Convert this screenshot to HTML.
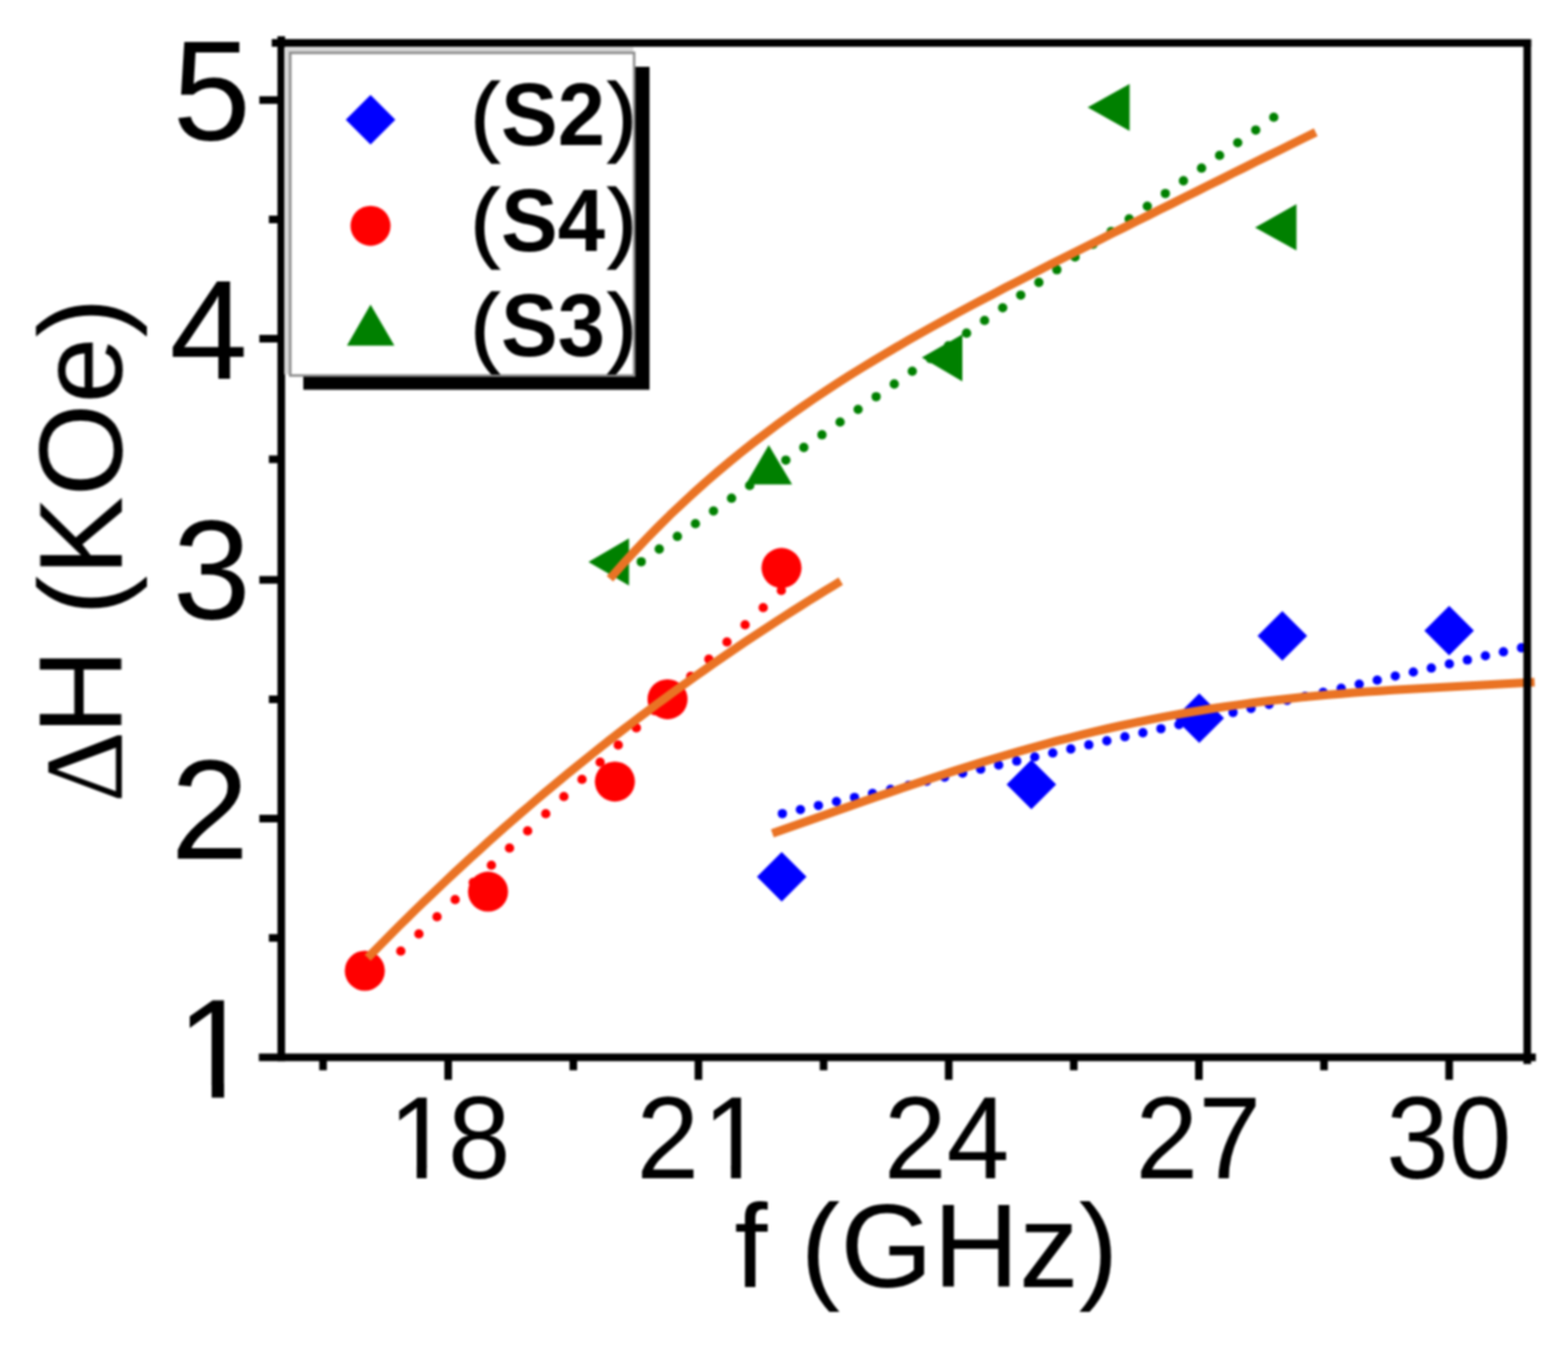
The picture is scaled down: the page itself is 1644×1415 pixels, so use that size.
<!DOCTYPE html>
<html><head><meta charset="utf-8"><title>chart</title><style>.ls{font-family:"Liberation Sans",Arial,sans-serif}html,body{margin:0;padding:0;background:#fff;overflow:hidden}svg{display:block}</style></head><body>
<svg width="1644" height="1415" viewBox="0 0 1644 1415">
<defs><filter id="bl" x="0" y="0" width="1644" height="1415" filterUnits="userSpaceOnUse" color-interpolation-filters="sRGB"><feGaussianBlur stdDeviation="0.9"/></filter></defs>
<rect width="1644" height="1415" fill="#fff"/>
<g filter="url(#bl)">
<g fill="#FF0000">
<circle cx="420.2" cy="996.9" r="4.9"/>
<circle cx="439.2" cy="978.9" r="4.9"/>
<circle cx="458.2" cy="960.9" r="4.9"/>
<circle cx="477.2" cy="942.9" r="4.9"/>
<circle cx="496.2" cy="924.9" r="4.9"/>
<circle cx="515.2" cy="906.9" r="4.9"/>
<circle cx="534.2" cy="888.9" r="4.9"/>
<circle cx="553.2" cy="870.9" r="4.9"/>
<circle cx="572.2" cy="852.9" r="4.9"/>
<circle cx="591.2" cy="834.9" r="4.9"/>
<circle cx="610.2" cy="816.9" r="4.9"/>
<circle cx="629.2" cy="798.9" r="4.9"/>
<circle cx="648.2" cy="780.9" r="4.9"/>
<circle cx="667.2" cy="762.9" r="4.9"/>
<circle cx="686.2" cy="744.9" r="4.9"/>
<circle cx="705.2" cy="726.9" r="4.9"/>
<circle cx="724.2" cy="708.9" r="4.9"/>
<circle cx="743.2" cy="690.9" r="4.9"/>
<circle cx="762.2" cy="672.9" r="4.9"/>
<circle cx="781.2" cy="654.9" r="4.9"/>
<circle cx="800.2" cy="636.9" r="4.9"/>
<circle cx="819.2" cy="618.9" r="4.9"/>
</g>
<g fill="#008000">
<circle cx="672.3" cy="588.8" r="4.9"/>
<circle cx="691.2" cy="575.5" r="4.9"/>
<circle cx="710.2" cy="562.2" r="4.9"/>
<circle cx="729.1" cy="548.9" r="4.9"/>
<circle cx="748.1" cy="535.6" r="4.9"/>
<circle cx="767.0" cy="522.2" r="4.9"/>
<circle cx="786.0" cy="508.9" r="4.9"/>
<circle cx="804.9" cy="495.6" r="4.9"/>
<circle cx="823.9" cy="482.3" r="4.9"/>
<circle cx="842.8" cy="469.0" r="4.9"/>
<circle cx="861.8" cy="455.7" r="4.9"/>
<circle cx="880.8" cy="442.4" r="4.9"/>
<circle cx="899.7" cy="429.1" r="4.9"/>
<circle cx="918.6" cy="415.8" r="4.9"/>
<circle cx="937.6" cy="402.5" r="4.9"/>
<circle cx="956.5" cy="389.1" r="4.9"/>
<circle cx="975.5" cy="375.8" r="4.9"/>
<circle cx="994.4" cy="362.5" r="4.9"/>
<circle cx="1013.4" cy="349.2" r="4.9"/>
<circle cx="1032.3" cy="335.9" r="4.9"/>
<circle cx="1051.3" cy="322.6" r="4.9"/>
<circle cx="1070.2" cy="309.3" r="4.9"/>
<circle cx="1089.2" cy="296.0" r="4.9"/>
<circle cx="1108.1" cy="282.7" r="4.9"/>
<circle cx="1127.1" cy="269.4" r="4.9"/>
<circle cx="1146.0" cy="256.0" r="4.9"/>
<circle cx="1165.0" cy="242.7" r="4.9"/>
<circle cx="1183.9" cy="229.4" r="4.9"/>
<circle cx="1202.9" cy="216.1" r="4.9"/>
<circle cx="1221.8" cy="202.8" r="4.9"/>
<circle cx="1240.8" cy="189.5" r="4.9"/>
<circle cx="1259.8" cy="176.2" r="4.9"/>
<circle cx="1278.7" cy="162.9" r="4.9"/>
<circle cx="1297.7" cy="149.6" r="4.9"/>
<circle cx="1316.6" cy="136.3" r="4.9"/>
<circle cx="1335.5" cy="122.9" r="4.9"/>
</g>
<g fill="#0000FF">
<circle cx="820.3" cy="852.8" r="4.9"/>
<circle cx="839.2" cy="848.6" r="4.9"/>
<circle cx="858.1" cy="844.3" r="4.9"/>
<circle cx="877.0" cy="840.1" r="4.9"/>
<circle cx="895.9" cy="835.8" r="4.9"/>
<circle cx="914.8" cy="831.6" r="4.9"/>
<circle cx="933.7" cy="827.4" r="4.9"/>
<circle cx="952.6" cy="823.1" r="4.9"/>
<circle cx="971.5" cy="818.9" r="4.9"/>
<circle cx="990.4" cy="814.6" r="4.9"/>
<circle cx="1009.3" cy="810.4" r="4.9"/>
<circle cx="1028.2" cy="806.2" r="4.9"/>
<circle cx="1047.1" cy="801.9" r="4.9"/>
<circle cx="1066.0" cy="797.7" r="4.9"/>
<circle cx="1084.9" cy="793.4" r="4.9"/>
<circle cx="1103.8" cy="789.2" r="4.9"/>
<circle cx="1122.7" cy="785.0" r="4.9"/>
<circle cx="1141.6" cy="780.7" r="4.9"/>
<circle cx="1160.5" cy="776.5" r="4.9"/>
<circle cx="1179.4" cy="772.2" r="4.9"/>
<circle cx="1198.3" cy="768.0" r="4.9"/>
<circle cx="1217.2" cy="763.8" r="4.9"/>
<circle cx="1236.1" cy="759.5" r="4.9"/>
<circle cx="1255.0" cy="755.3" r="4.9"/>
<circle cx="1273.9" cy="751.0" r="4.9"/>
<circle cx="1292.8" cy="746.8" r="4.9"/>
<circle cx="1311.7" cy="742.6" r="4.9"/>
<circle cx="1330.6" cy="738.3" r="4.9"/>
<circle cx="1349.5" cy="734.1" r="4.9"/>
<circle cx="1368.4" cy="729.8" r="4.9"/>
<circle cx="1387.3" cy="725.6" r="4.9"/>
<circle cx="1406.2" cy="721.4" r="4.9"/>
<circle cx="1425.1" cy="717.1" r="4.9"/>
<circle cx="1444.0" cy="712.9" r="4.9"/>
<circle cx="1462.9" cy="708.6" r="4.9"/>
<circle cx="1481.8" cy="704.4" r="4.9"/>
<circle cx="1500.7" cy="700.2" r="4.9"/>
<circle cx="1519.6" cy="695.9" r="4.9"/>
<circle cx="1538.5" cy="691.7" r="4.9"/>
<circle cx="1557.4" cy="687.4" r="4.9"/>
<circle cx="1576.3" cy="683.2" r="4.9"/>
<circle cx="1595.2" cy="679.0" r="4.9"/>
</g>
<path d="M819.6,893.1 L845.6,919.1 L819.6,945.1 L793.6,919.1Z" fill="#0000FF"/>
<path d="M1081.4,796.3 L1107.4,822.3 L1081.4,848.3 L1055.4,822.3Z" fill="#0000FF"/>
<path d="M1257.4,726.7 L1283.4,752.7 L1257.4,778.7 L1231.4,752.7Z" fill="#0000FF"/>
<path d="M1344.5,640.6 L1370.5,666.6 L1344.5,692.6 L1318.5,666.6Z" fill="#0000FF"/>
<path d="M1519.4,634.9 L1545.4,660.9 L1519.4,686.9 L1493.4,660.9Z" fill="#0000FF"/>
<circle cx="382.5" cy="1017.5" r="21" fill="#FF0000"/>
<circle cx="511.7" cy="934.6" r="21" fill="#FF0000"/>
<circle cx="644.7" cy="819.2" r="21" fill="#FF0000"/>
<circle cx="699.9" cy="732.9" r="21" fill="#FF0000"/>
<circle cx="819.4" cy="595.3" r="21" fill="#FF0000"/>
<path d="M617.0,589.0 L659.5,564.2 L659.5,613.8Z" fill="#008000"/>
<path d="M806.0,466.6 L830.5,507.8 L781.9,507.8Z" fill="#008000"/>
<path d="M966.5,374.7 L1009.0,350.5 L1009.0,399.7Z" fill="#008000"/>
<path d="M1140.4,112.6 L1184.4,87.9 L1184.4,137.3Z" fill="#008000"/>
<path d="M1315.9,238.6 L1359.3,213.9 L1359.3,262.5Z" fill="#008000"/>
<g fill="none" stroke="#EA7324" stroke-width="9" stroke-linecap="butt" stroke-linejoin="round">
<path d="M385.5,1003.9 L393.9,995.3 L402.3,986.8 L410.7,978.3 L419.1,969.9 L427.5,961.7 L435.9,953.4 L444.3,945.3 L452.8,937.2 L461.2,929.2 L469.6,921.3 L478.0,913.4 L486.4,905.6 L494.8,897.9 L503.2,890.3 L511.6,882.7 L520.0,875.2 L528.4,867.7 L536.8,860.4 L545.2,853.0 L553.6,845.8 L562.0,838.6 L570.4,831.5 L578.9,824.5 L587.3,817.5 L595.7,810.6 L604.1,803.7 L612.5,796.9 L620.9,790.2 L629.3,783.5 L637.7,776.9 L646.1,770.4 L654.5,763.9 L662.9,757.5 L671.3,751.1 L679.7,744.8 L688.1,738.5 L696.6,732.3 L705.0,726.2 L713.4,720.1 L721.8,714.1 L730.2,708.1 L738.6,702.2 L747.0,696.3 L755.4,690.5 L763.8,684.7 L772.2,679.0 L780.6,673.3 L789.0,667.7 L797.4,662.2 L805.8,656.7 L814.2,651.2 L822.7,645.8 L831.1,640.4 L839.5,635.1 L847.9,629.8 L856.3,624.6 L864.7,619.4 L873.1,614.3 L881.5,609.2"/>
<path d="M639.5,606.6 L652.0,592.4 L664.6,578.6 L677.1,565.4 L689.7,552.5 L702.2,540.1 L714.8,528.2 L727.3,516.6 L739.8,505.3 L752.4,494.5 L764.9,484.0 L777.5,473.8 L790.0,463.9 L802.6,454.3 L815.1,444.9 L827.6,435.8 L840.2,427.0 L852.7,418.4 L865.3,410.0 L877.8,401.8 L890.3,393.8 L902.9,386.0 L915.4,378.3 L928.0,370.8 L940.5,363.5 L953.1,356.2 L965.6,349.1 L978.1,342.1 L990.7,335.2 L1003.2,328.4 L1015.8,321.6 L1028.3,315.0 L1040.9,308.4 L1053.4,301.8 L1065.9,295.4 L1078.5,288.9 L1091.0,282.5 L1103.6,276.1 L1116.1,269.8 L1128.7,263.5 L1141.2,257.2 L1153.7,250.9 L1166.3,244.6 L1178.8,238.4 L1191.4,232.1 L1203.9,225.9 L1216.4,219.6 L1229.0,213.4 L1241.5,207.1 L1254.1,200.9 L1266.6,194.6 L1279.2,188.4 L1291.7,182.1 L1304.2,175.9 L1316.8,169.6 L1329.3,163.4 L1341.9,157.2 L1354.4,151.0 L1367.0,144.8 L1379.5,138.6"/>
<path d="M809.8,873.4 L823.3,868.7 L836.9,864.0 L850.4,859.2 L864.0,854.5 L877.5,849.8 L891.1,845.0 L904.6,840.3 L918.2,835.6 L931.7,830.9 L945.3,826.3 L958.8,821.8 L972.3,817.2 L985.9,812.8 L999.4,808.4 L1013.0,804.1 L1026.5,799.9 L1040.1,795.8 L1053.6,791.8 L1067.2,787.9 L1080.7,784.1 L1094.3,780.3 L1107.8,776.7 L1121.4,773.3 L1134.9,769.9 L1148.4,766.6 L1162.0,763.5 L1175.5,760.5 L1189.1,757.6 L1202.6,754.8 L1216.2,752.2 L1229.7,749.7 L1243.3,747.3 L1256.8,745.0 L1270.4,742.8 L1283.9,740.8 L1297.4,738.9 L1311.0,737.0 L1324.5,735.3 L1338.1,733.7 L1351.6,732.2 L1365.2,730.8 L1378.7,729.5 L1392.3,728.3 L1405.8,727.2 L1419.4,726.1 L1432.9,725.1 L1446.5,724.2 L1460.0,723.3 L1473.5,722.5 L1487.1,721.7 L1500.6,720.9 L1514.2,720.2 L1527.7,719.5 L1541.3,718.8 L1554.8,718.1 L1568.4,717.3 L1581.9,716.5 L1595.5,715.7 L1609.0,714.9"/>
</g>
<g stroke="#000" stroke-width="8.0" fill="none" stroke-linecap="butt">
<path d="M284.9,45.1 H1605.3"/>
<path d="M294.9,38.1 V1112.2"/>
<path d="M271.4,1108.25 H1610.3"/>
<path d="M1601.3,41.1 V1115.2"/>
<path d="M271.9,858.0 H294.9"/>
<path d="M271.9,607.8 H294.9"/>
<path d="M271.9,355.0 H294.9"/>
<path d="M271.9,104.9 H294.9"/>
<path d="M281.9,983.1 H294.9"/>
<path d="M281.9,733.0 H294.9"/>
<path d="M281.9,481.4 H294.9"/>
<path d="M281.9,230.0 H294.9"/>
<path d="M469.9,1108.25 V1131.8"/>
<path d="M732.3,1108.25 V1131.8"/>
<path d="M994.7,1108.25 V1131.8"/>
<path d="M1257.0,1108.25 V1131.8"/>
<path d="M1519.4,1108.25 V1131.8"/>
<path d="M338.7,1108.25 V1121.8"/>
<path d="M601.1,1108.25 V1121.8"/>
<path d="M863.5,1108.25 V1121.8"/>
<path d="M1125.8,1108.25 V1121.8"/>
<path d="M1388.2,1108.25 V1121.8"/>
</g>
<g class="ls" font-size="147.5" fill="#000">
<text x="180.93" y="146.90">5</text>
<text x="177.65" y="397.00">4</text>
<text x="181.02" y="649.40">3</text>
<text x="179.08" y="899.50">2</text>
<text x="184.84" y="1150.50">1</text>
</g>
<g class="ls" font-size="122" fill="#000">
<g transform="translate(472.50,1235.0) scale(0.97,1)"><text x="-67.36 -3.22" y="0">18</text>
<rect x="-60.56" y="-11.61" width="57.60" height="14.11" fill="#fff"/><rect x="-36.677" y="-12.61" width="10.782" height="12.61" fill="#000"/>
</g>
<g transform="translate(723.25,1235.0) scale(0.97,1)"><text x="-57.72 13.84" y="0">21</text>
<rect x="20.63" y="-11.61" width="57.60" height="14.11" fill="#fff"/><rect x="44.517" y="-12.61" width="10.782" height="12.61" fill="#000"/>
</g>
<g transform="translate(993.75,1235.0) scale(0.97,1)"><text x="-69.13 -1.28" y="0">24</text>
</g>
<g transform="translate(1256.40,1235.0) scale(0.97,1)"><text x="-67.85 0.00" y="0">27</text>
</g>
<g transform="translate(1519.05,1235.0) scale(0.97,1)"><text x="-67.79 0.06" y="0">30</text>
</g>
</g>
<rect x="193.58" y="1136.98" width="68.59" height="16.02" fill="#fff"/><rect x="221.933" y="1135.98" width="13.036" height="14.52" fill="#000"/>
<text x="769.9" y="1349.0" class="ls" font-size="125">f (GHz)</text>
<text transform="translate(127.7,841.0) rotate(-90)" class="ls" font-size="125"><tspan style="font-family:'NanumGothic','Liberation Serif',serif" font-size="116">&#916;</tspan><tspan x="70.7">H (KOe)</tspan></text>
<rect x="318" y="70" width="363" height="338.5" fill="#000"/>
<rect x="298" y="49.5" width="366" height="343" fill="#d6d6d6"/>
<rect x="304.3" y="55.4" width="360.6" height="338.2" fill="#fff" stroke="#8c8c8c" stroke-width="2.6"/>
<path d="M388.5,99.4 L414.5,125.4 L388.5,151.4 L362.5,125.4Z" fill="#0000FF"/>
<circle cx="388.5" cy="236.7" r="21" fill="#FF0000"/>
<path d="M388.5,319.2 L413.5,362.2 L363.8,362.2Z" fill="#008000"/>
<text class="ls" font-size="92" y="151.8"><tspan x="493.24" stroke="#000" stroke-width="1.5">(</tspan><tspan x="525.23" font-weight="bold" textLength="109.15" lengthAdjust="spacingAndGlyphs">S2</tspan><tspan x="636.91" stroke="#000" stroke-width="1.5">)</tspan></text>
<text class="ls" font-size="92" y="263.2"><tspan x="493.24" stroke="#000" stroke-width="1.5">(</tspan><tspan x="525.23" font-weight="bold" textLength="109.15" lengthAdjust="spacingAndGlyphs">S4</tspan><tspan x="636.91" stroke="#000" stroke-width="1.5">)</tspan></text>
<text class="ls" font-size="92" y="373.4"><tspan x="493.24" stroke="#000" stroke-width="1.5">(</tspan><tspan x="525.23" font-weight="bold" textLength="109.15" lengthAdjust="spacingAndGlyphs">S3</tspan><tspan x="636.91" stroke="#000" stroke-width="1.5">)</tspan></text>
</g>
</svg>
</body></html>
